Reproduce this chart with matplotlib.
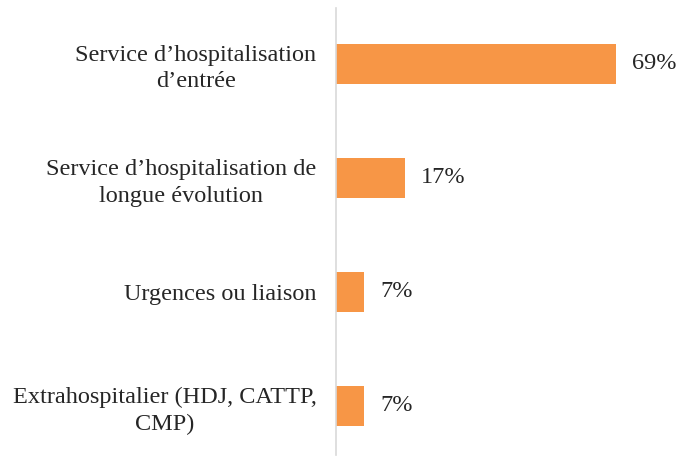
import matplotlib
matplotlib.use("Agg")
import matplotlib.pyplot as plt

# ----------- DATA -----------
categories = [
    "Service d\u2019hospitalisation\nd\u2019entrée",
    "Service d\u2019hospitalisation de\nlongue évolution",
    "Urgences ou liaison",
    "Extrahospitalier (HDJ, CATTP,\nCMP)",
]
values = [69, 17, 7, 7]
value_labels = ["69%", "17%", "7%", "7%"]

BAR_COLOR = "#F79646"

plt.rcParams["font.family"] = ["Liberation Serif", "DejaVu Serif"]

fig = plt.figure(figsize=(6.8, 4.57), dpi=100)
ax = fig.add_axes([336/680, 2/457, 310/680, 447/457])

ypos = list(range(len(categories)))
ax.barh(ypos, values, height=0.35, color=BAR_COLOR)
for y, v, lab in zip(ypos, values, value_labels):
    ax.text(v + 3.8, y, lab, va="center", ha="left", fontsize=17.5, color="#262626")

ax.set_xlim(0, 76.3)
ax.set_ylim(3.43, -0.49)
ax.set_yticks(ypos)
ax.set_yticklabels(categories, fontsize=17.5, color="#262626")
for t in ax.get_yticklabels():
    t.set_multialignment("center")
    t.set_linespacing(1.32)
ax.tick_params(axis="y", length=0, pad=14)
ax.set_xticks([])

for s in ["top", "right", "bottom"]:
    ax.spines[s].set_visible(False)
ax.spines["left"].set_color("#D9D9D9")
ax.spines["left"].set_linewidth(1.2)

fig.savefig("out.png", dpi=100)
